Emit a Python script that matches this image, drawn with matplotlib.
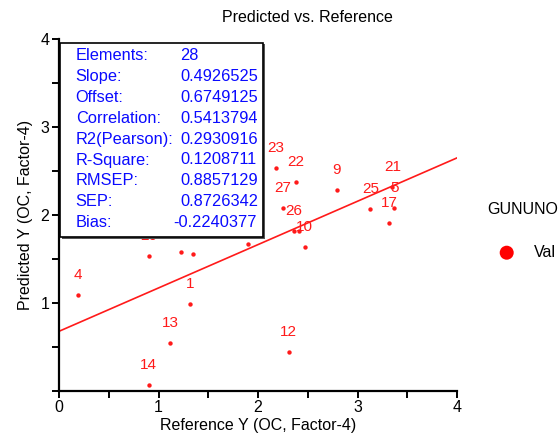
# -*- coding: utf-8 -*-
'''
Predicted vs. Reference scatter with regression line and stats box
'''
import matplotlib
matplotlib.use('Agg')
import matplotlib.pyplot as plt
from matplotlib.patches import Rectangle, Ellipse

plt.rcParams['font.family'] = ['Liberation Sans', 'DejaVu Sans']

# data
ref_y = [0.90, 1.12, 1.32, 0.19, 2.31, 0.90, 1.23, 1.35, 1.90, 2.18, 2.38,
         2.25, 2.36, 2.41, 2.47, 2.79, 3.13, 3.37, 3.32, 3.35]
pred_y = [0.06, 0.54, 0.99, 1.09, 0.44, 1.53, 1.58, 1.55, 1.67, 2.53, 2.37,
          2.08, 1.81, 1.81, 1.63, 2.28, 2.06, 2.08, 1.91, 2.32]
labels = ['14', '13', '1', '4', '12', '20', '', '11', '', '23', '22',
          '27', '26', '', '10', '9', '25', '5', '17', '21']

slope = 0.4926525
offset = 0.6749125

stat_names = ['Elements:', 'Slope:', 'Offset:', 'Correlation:', 'R2(Pearson):',
              'R-Square:', 'RMSEP:', 'SEP:', 'Bias:']
stat_values = ['28', '0.4926525', '0.6749125', '0.5413794', '0.2930916',
               '0.1208711', '0.8857129', '0.8726342', '-0.2240377']

W, H = 559, 437


def fx(px):
    return px / W


def fy(py):
    return 1 - py / H


fig = plt.figure(figsize=(W / 100, H / 100), dpi=100)
ax = fig.add_axes([fx(59), fy(390.7), fx(457) - fx(59), fy(38.7) - fy(390.7)])

red = '#ff1a1a'
ax.scatter(ref_y, pred_y, s=10, color=red, zorder=3, linewidths=0)
for x, y, t in zip(ref_y, pred_y, labels):
    ax.annotate(t, (x, y), xytext=(0, 20), textcoords='offset pixels',
                ha='center', va='center', color=red, fontsize=11, zorder=3)

xs = [0, 4]
ax.plot(xs, [offset + slope * v for v in xs], color=red, lw=1.2, zorder=2)

ax.set_xlim(0, 4)
ax.set_ylim(0, 4)
ax.set_xticks([0, 1, 2, 3, 4])
ax.set_xticks([0.5, 1.5, 2.5, 3.5], minor=True)
ax.set_yticks([0, 1, 2, 3, 4])
ax.set_yticklabels(['', '1', '2', '3', '4'])
ax.set_yticks([0.5, 1.5, 2.5, 3.5], minor=True)
for s in ['top', 'right']:
    ax.spines[s].set_visible(False)
for s in ['left', 'bottom']:
    ax.spines[s].set_linewidth(1.6)
ax.tick_params(which='both', direction='out', length=5, width=1.4, labelsize=11.5, pad=2)
ax.set_xlabel('Reference Y (OC, Factor-4)', fontsize=11.5, labelpad=2)
ax.set_ylabel('Predicted Y (OC, Factor-4)', fontsize=11.5, labelpad=5)

# stats box
bx0, by0, bx1, by1 = 60, 42.7, 263.3, 237.3
ax_box = fig.add_axes([0, 0, 1, 1], facecolor='none')
ax_box.set_xlim(0, W)
ax_box.set_ylim(H, 0)
ax_box.axis('off')
ax_box.add_patch(Rectangle((bx0 + 1.5, by0 + 1.5), bx1 - bx0, by1 - by0,
                           facecolor='#555555', edgecolor='none', zorder=1))
ax_box.add_patch(Rectangle((bx0, by0), bx1 - bx0, by1 - by0,
                           facecolor='white', edgecolor='black', lw=1.2, zorder=2))
for i, (n, v) in enumerate(zip(stat_names, stat_values)):
    yy = 56 + i * 20.8
    ax_box.text(75.7, yy, n, color='#0a0aff', fontsize=11.8, ha='left', va='center', zorder=3)
    xv = 173 if v.startswith('-') else 180
    ax_box.text(xv, yy, v, color='#0a0aff', fontsize=11.8, ha='left', va='center', zorder=3)

# title and legend
ax_box.text(307, 17.5, 'Predicted vs. Reference', fontsize=11.5, ha='center', va='center')
ax_box.text(487, 210, 'GUNUNO', fontsize=11.5, ha='left', va='center')
ax_box.add_patch(Ellipse((506.7, 252.7), 14, 14, facecolor='red', edgecolor='none'))
ax_box.text(534, 252.7, 'Val', fontsize=11.5, ha='left', va='center')

plt.savefig('out.png', dpi=100)
plt.close()
